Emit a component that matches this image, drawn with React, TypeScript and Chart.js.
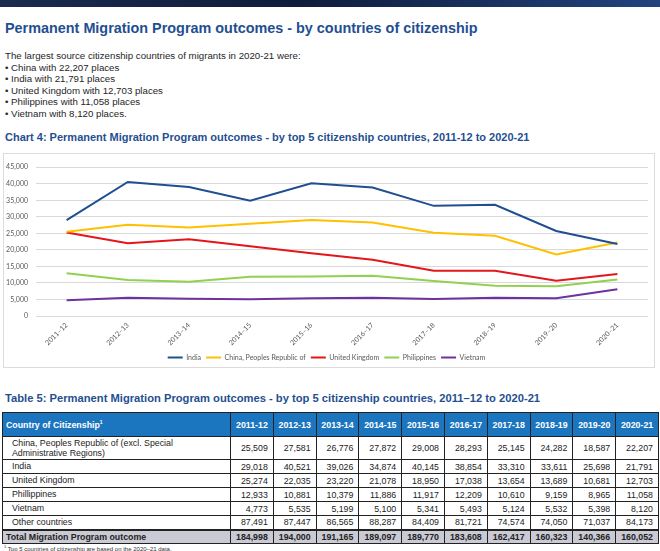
import React, { useEffect, useRef } from "react";
import { Chart, registerables } from "chart.js";

Chart.register(...registerables);

const chartYears = ["2011–12", "2012–13", "2013–14", "2014–15", "2015–16", "2016–17", "2017–18", "2018–19", "2019–20", "2020–21"];
const tableYears = ["2011-12", "2012-13", "2013-14", "2014-15", "2015-16", "2016-17", "2017-18", "2018-19", "2019-20", "2020-21"];

const india = [29018, 40521, 39026, 34874, 40145, 38854, 33310, 33611, 25698, 21791];
const china = [25509, 27581, 26776, 27872, 29008, 28293, 25145, 24282, 18587, 22207];
const unitedKingdom = [25274, 22035, 23220, 21078, 18950, 17038, 13654, 13689, 10681, 12703];
const philippines = [12933, 10881, 10379, 11886, 11917, 12209, 10610, 9159, 8965, 11058];
const vietnam = [4773, 5535, 5199, 5100, 5341, 5493, 5124, 5532, 5398, 8120];
const otherCountries = [87491, 87447, 86565, 88287, 84409, 81721, 74574, 74050, 71037, 84173];
const totalOutcome = [184998, 194000, 191165, 189097, 189770, 183608, 162417, 160323, 140366, 160052];

const seriesNames = ["India", "China, Peoples Republic of", "United Kingdom", "Philippines", "Vietnam"];
const seriesValues = [india, china, unitedKingdom, philippines, vietnam];
const seriesColors = ["#1f4e91", "#ffc000", "#e3161b", "#92d050", "#7030a0"];

const yMax = 45000;
const yStep = 5000;

const bulletLines = [
  "China with 22,207 places",
  "India with 21,791 places",
  "United Kingdom with 12,703 places",
  "Philippines with 11,058 places",
  "Vietnam with 8,120 places.",
];

const tableRowNames = [
  "China, Peoples Republic of (excl. Special|Administrative Regions)",
  "India",
  "United Kingdom",
  "Phillippines",
  "Vietnam",
  "Other countries",
];
const tableRowValues = [china, india, unitedKingdom, philippines, vietnam, otherCountries];

const fmt = (n: number) => n.toLocaleString("en-US");
const BLUE = "#1f4f91";
const FONT = "'Liberation Sans', Arial, sans-serif";

function LineChart() {
  const ref = useRef<HTMLCanvasElement | null>(null);
  useEffect(() => {
    if (!ref.current) return;
    const tickFont = { family: "Lato", size: 7 };
    const chart = new Chart(ref.current, {
      type: "line",
      data: {
        labels: chartYears,
        datasets: seriesNames.map((name, i) => ({
          label: name,
          data: seriesValues[i],
          borderColor: seriesColors[i],
          backgroundColor: seriesColors[i],
          borderWidth: 2,
          pointRadius: 0,
          tension: 0,
        })),
      },
      options: {
        animation: false,
        responsive: false,
        maintainAspectRatio: false,
        layout: { padding: { left: 0, right: 7, top: 10, bottom: 0 } },
        plugins: {
          tooltip: { enabled: false },
          legend: {
            position: "bottom",
            labels: {
              usePointStyle: true,
              pointStyle: "line",
              pointStyleWidth: 15,
              boxHeight: 7,
              padding: 5,
              color: "#595959",
              font: tickFont,
            },
          },
        },
        scales: {
          x: {
            offset: true,
            grid: { display: false, drawTicks: false },
            border: { display: false },
            ticks: { minRotation: 45, maxRotation: 45, padding: 5, color: "#595959", font: tickFont, autoSkip: false },
            afterFit: (s: any) => {
              s.height = 33;
            },
          },
          y: {
            min: 0,
            max: yMax,
            border: { display: false },
            grid: { color: "#d9d9d9", drawTicks: false, lineWidth: 1 },
            ticks: {
              stepSize: yStep,
              padding: 8,
              color: "#595959",
              font: tickFont,
              callback: (v: any) => fmt(Number(v)),
            },
            afterFit: (s: any) => {
              s.width = 31;
            },
          },
        },
      },
    } as any);
    return () => chart.destroy();
  }, []);
  return (
    <canvas
      ref={ref}
      width={650}
      height={216}
      style={{ position: "absolute", left: 1, top: 1, width: 650, height: 216, display: "block" }}
    />
  );
}

export default function App() {
  const cell: React.CSSProperties = {
    border: "1px solid #222",
    padding: "0 5px 0 0",
    textAlign: "right",
    fontSize: 8.8,
    color: "#222",
  };
  const headCell: React.CSSProperties = {
    border: "1px solid #222",
    background: "#1b76bf",
    color: "#fff",
    fontWeight: "bold",
    fontSize: 8.8,
    textAlign: "center",
    padding: 0,
  };
  return (
    <div style={{ position: "absolute", left: 0, top: 0, width: 660, height: 551, overflow: "hidden", fontFamily: FONT, background: "#fff" }}>
      <div style={{ position: "absolute", left: 0, top: 0, width: 660, height: 7, background: "linear-gradient(90deg, #1a2b4e 0%, #0f1c3b 45%, #21437e 100%)" }} />
      <div style={{ position: "absolute", left: 5, top: 20, fontSize: 14.4, lineHeight: "16px", fontWeight: "bold", color: BLUE, whiteSpace: "nowrap" }}>
        Permanent Migration Program outcomes - by countries of citizenship
      </div>
      <div style={{ position: "absolute", left: 5, top: 50, fontSize: 9.7, lineHeight: "11.6px", color: "#262626", whiteSpace: "nowrap" }}>
        <div>The largest source citizenship countries of migrants in 2020-21 were:</div>
        {bulletLines.map((l) => (
          <div key={l}>• {l}</div>
        ))}
      </div>
      <div style={{ position: "absolute", left: 5, top: 131, fontSize: 11, lineHeight: "13px", fontWeight: "bold", color: BLUE, whiteSpace: "nowrap" }}>
        Chart 4: Permanent Migration Program outcomes - by top 5 citizenship countries, 2011-12 to 2020-21
      </div>
      <div style={{ position: "absolute", left: 3, top: 153, width: 652, height: 215, border: "1px solid #dcdcdc", boxSizing: "border-box" }}>
        <LineChart />
      </div>
      <div style={{ position: "absolute", left: 5, top: 392, fontSize: 11.2, lineHeight: "13px", fontWeight: "bold", color: BLUE, whiteSpace: "nowrap" }}>
        Table 5: Permanent Migration Program outcomes - by top 5 citizenship countries, 2011–12 to 2020-21
      </div>
      <table style={{ position: "absolute", left: 2, top: 412, width: 656, borderCollapse: "collapse", tableLayout: "fixed", fontFamily: FONT }}>
        <colgroup>
          <col style={{ width: 228 }} />
          {tableYears.map((y) => (
            <col key={y} style={{ width: 42.8 }} />
          ))}
        </colgroup>
        <tbody>
          <tr style={{ height: 24 }}>
            <td style={{ ...headCell, textAlign: "left", paddingLeft: 3 }}>
              Country of Citizenship<sup style={{ fontSize: 5 }}>1</sup>
            </td>
            {tableYears.map((y) => (
              <td key={y} style={headCell}>{y}</td>
            ))}
          </tr>
          {tableRowNames.map((name, r) => (
            <tr key={name} style={{ height: r === 0 ? 23 : 14 }}>
              <td style={{ ...cell, textAlign: "left", paddingLeft: 9, lineHeight: "10.5px" }}>
                {name.split("|").map((part, k) => (
                  <div key={k}>{part}</div>
                ))}
              </td>
              {tableRowValues[r].map((v, c) => (
                <td key={c} style={cell}>{fmt(v)}</td>
              ))}
            </tr>
          ))}
          <tr style={{ height: 14, background: "#c9cad3" }}>
            <td style={{ ...cell, textAlign: "left", paddingLeft: 3, fontWeight: "bold", borderTop: "2px solid #222" }}>Total Migration Program outcome</td>
            {totalOutcome.map((v, c) => (
              <td key={c} style={{ ...cell, fontWeight: "bold", borderTop: "2px solid #222" }}>{fmt(v)}</td>
            ))}
          </tr>
        </tbody>
      </table>
      <div style={{ position: "absolute", left: 4, top: 543, fontSize: 6, lineHeight: "7px", color: "#333", whiteSpace: "nowrap" }}>
        <sup style={{ fontSize: 4 }}>1</sup> Top 5 countries of citizenship are based on the 2020–21 data.
      </div>
    </div>
  );
}
